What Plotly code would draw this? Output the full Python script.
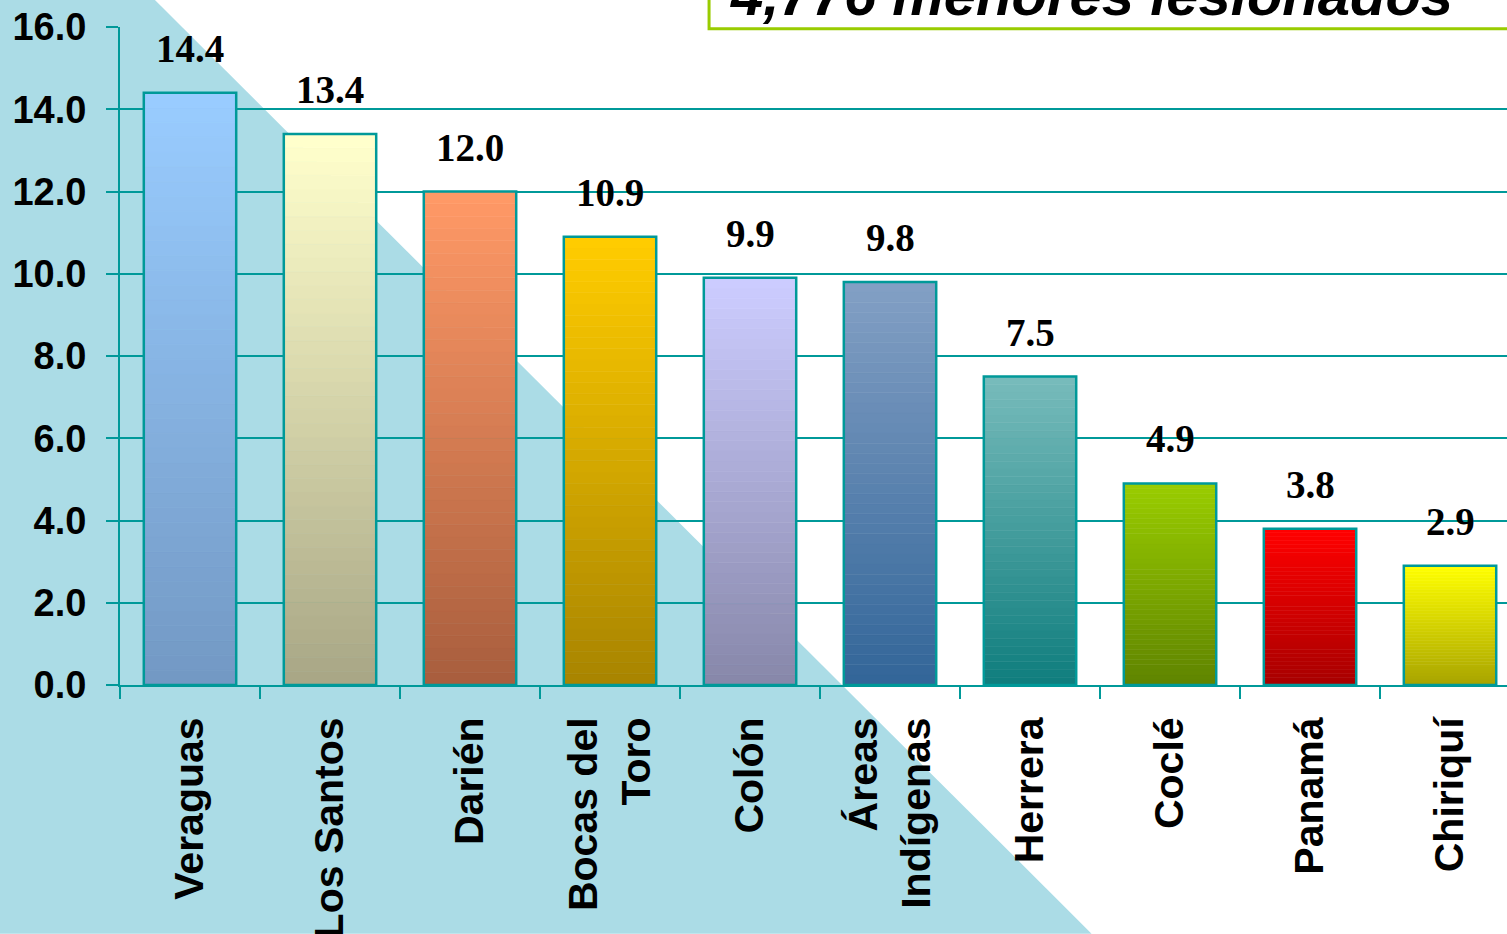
import plotly.graph_objects as go

regiones = ["Veraguas", "Los Santos", "Darién", "Bocas del<br>Toro", "Colón",
            "Áreas<br>Indígenas", "Herrera", "Coclé", "Panamá", "Chiriquí"]
tasas = [14.4, 13.4, 12.0, 10.9, 9.9, 9.8, 7.5, 4.9, 3.8, 2.9]
etiquetas = ["14.4", "13.4", "12.0", "10.9", "9.9", "9.8", "7.5", "4.9", "3.8", "2.9"]
titulo = "4,776 menores lesionados"

# top / bottom colour of each bar's gradient
color_arriba = ["#99CCFF", "#FFFFCC", "#FF9966", "#FFCC00", "#CCCCFF",
                "#829FC4", "#77BBBB", "#99CC00", "#FF0000", "#FFFF00"]
color_abajo = ["#7399C4", "#A9A786", "#A95E3E", "#A98500", "#8888AA",
               "#336699", "#107E7E", "#608500", "#A80000", "#A9A500"]

TEAL = "#009999"
N = 40


def hex_rgb(h):
    h = h.lstrip("#")
    return tuple(int(h[i:i + 2], 16) for i in (0, 2, 4))


def mezcla(c_bajo, c_alto, t):
    a, b = hex_rgb(c_bajo), hex_rgb(c_alto)
    return "rgb(%d,%d,%d)" % tuple(round(a[i] + (b[i] - a[i]) * t) for i in range(3))


fig = go.Figure()

# gradient: each bar is stacked from N thin slices
for k in range(N):
    t = k / (N - 1)
    cols = [mezcla(lo, hi, t) for lo, hi in zip(color_abajo, color_arriba)]
    fig.add_trace(go.Bar(
        x=regiones, y=[v / N for v in tasas], base=[v * k / N for v in tasas],
        width=0.66, marker=dict(color=cols, line=dict(color=cols, width=0.6)),
        hoverinfo="skip", showlegend=False))

# outline
fig.add_trace(go.Bar(
    x=regiones, y=tasas, width=0.66,
    marker=dict(color="rgba(0,0,0,0)", line=dict(color=TEAL, width=2.5)),
    showlegend=False))

for r, v, s in zip(regiones, tasas, etiquetas):
    fig.add_annotation(x=r, y=v, text=s, showarrow=False, yanchor="bottom", yshift=21,
                       font=dict(family="Liberation Serif", size=39, color="black", weight="bold"))

# water-drop triangle in the lower left and the title box
fig.add_shape(type="path", xref="paper", yref="paper", layer="below",
              path="M -0.0866,1.041 L 0.0252,1.041 L 0.7005,-0.378 L -0.0866,-0.378 Z",
              fillcolor="#ABDCE6", line=dict(width=0))
fig.add_shape(type="path", xref="paper", yref="paper", layer="below",
              path="M 0.4247,1.06 L 0.4247,0.9975 L 1.02,0.9975",
              fillcolor="white", line=dict(color="#99CC00", width=3))
fig.add_annotation(xref="paper", yref="paper", x=0.4384, y=1, xanchor="left", yanchor="bottom",
                   yshift=-2, text=titulo, showarrow=False,
                   font=dict(family="Liberation Sans", size=58, color="black",
                             weight="bold", style="italic"))

fig.update_layout(
    width=1507, height=934, autosize=False,
    margin=dict(l=120, r=0, t=27, b=249),
    paper_bgcolor="white", plot_bgcolor="rgba(0,0,0,0)",
    barmode="overlay", bargap=0.34,
    font=dict(family="Liberation Sans", color="black"),
)
fig.update_xaxes(range=[-0.5, 9.407], showline=True, linecolor=TEAL, linewidth=2,
                 ticks="outside", tickson="boundaries", ticklen=12, tickcolor=TEAL, tickwidth=2,
                 tickangle=-90, tickfont=dict(size=41, weight="bold", color="black"),
                 ticklabelstandoff=14, showgrid=False, automargin=False)
fig.update_yaxes(range=[0, 16], dtick=2, tickformat=".1f", showline=True, linecolor=TEAL,
                 linewidth=2, ticks="outside", ticklen=12, tickcolor=TEAL, tickwidth=2,
                 gridcolor=TEAL, gridwidth=2, ticklabelstandoff=12, automargin=False,
                 tickfont=dict(size=38, weight="bold", color="black"), zeroline=False)

fig.write_html("out.html", config={"displayModeBar": False, "responsive": False},
               post_script="document.body.style.margin='0';")
